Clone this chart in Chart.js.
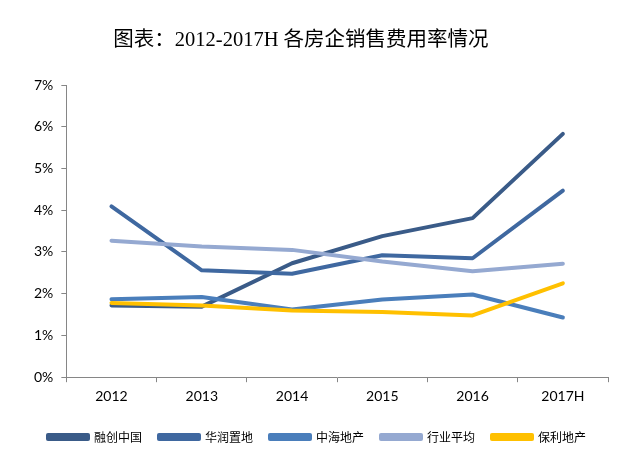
<!DOCTYPE html>
<html>
<head>
<meta charset="utf-8">
<script src="https://cdn.jsdelivr.net/npm/chart.js@4/dist/chart.umd.min.js"></script>
<style>
  html, body { margin: 0; padding: 0; background: #fff; }
  #wrap { position: relative; width: 634px; height: 463px; }
  #title {
    position: absolute; top: 22px; left: 0; width: 602px;
    text-align: center; font: 20.5px "Liberation Serif", "Noto Sans CJK SC", serif; color: #000;
  }
</style>
</head>
<body>
<div id="wrap">
  <div id="title">图表：2012-2017H 各房企销售费用率情况</div>
  <canvas id="chart"></canvas>
</div>
<script>
const years = ['2012', '2013', '2014', '2015', '2016', '2017H']
const yTicks = [0, 1, 2, 3, 4, 5, 6, 7]

const names = ['融创中国', '华润置地', '中海地产', '行业平均', '保利地产']
const rongchuang = [1.72, 1.69, 2.73, 3.38, 3.81, 5.83]
const huarun = [4.09, 2.56, 2.48, 2.92, 2.85, 4.47]
const zhonghai = [1.87, 1.92, 1.62, 1.86, 1.98, 1.43]
const industry = [3.27, 3.13, 3.05, 2.77, 2.54, 2.72]
const poly = [1.78, 1.72, 1.60, 1.56, 1.48, 2.25]

const colors = ['#3A5B88', '#3F68A0', '#4A7EBB', '#95A9D1', '#FFC000']
const series = [rongchuang, huarun, zhonghai, industry, poly]

const axisColor = '#868686'
const tickFont = { family: 'Lato, "Noto Sans CJK SC", sans-serif', size: 14 }

/* Jeux de données : le dernier est dessiné au-dessus */
const datasets = series.map((data, i) => ({
  label: names[i],
  data: data,
  borderColor: colors[i],
  backgroundColor: colors[i],
  borderWidth: 4,
  pointRadius: 0,
  tension: 0,
  borderJoinStyle: 'round',
  borderCapStyle: 'round',
  order: series.length - 1 - i,
}))

new Chart(document.querySelector('#chart'), {
  type: 'line',
  data: { labels: years, datasets: datasets },
  options: {
    responsive: true,
    maintainAspectRatio: false,
    animation: false,
    layout: { padding: { left: 26, right: 26, top: 85, bottom: 10 } },
    plugins: {
      tooltip: { enabled: false },
      legend: {
        position: 'bottom',
        labels: {
          boxWidth: 40,
          boxHeight: 4,
          padding: 17,
          color: '#000',
          font: { family: '"Noto Sans CJK SC", sans-serif', size: 12 },
          sort: (a, b) => a.datasetIndex - b.datasetIndex,
        },
      },
    },
    scales: {
      x: {
        offset: true,
        afterFit: s => { s.height += 3 },
        grid: { display: true, drawOnChartArea: false, drawTicks: true, tickLength: 5, color: axisColor, offset: true },
        border: { color: axisColor, width: 1 },
        ticks: { color: '#000', font: tickFont, padding: 6 },
      },
      y: {
        min: 0,
        max: 7,
        afterBuildTicks: axis => { axis.ticks = yTicks.map(v => ({ value: v })) },
        grid: { display: true, drawOnChartArea: false, drawTicks: true, tickLength: 5, color: axisColor },
        border: { color: axisColor, width: 1 },
        ticks: { color: '#000', font: tickFont, padding: 8, callback: v => v + '%' },
      },
    },
  },
})
</script>
</body>
</html>
